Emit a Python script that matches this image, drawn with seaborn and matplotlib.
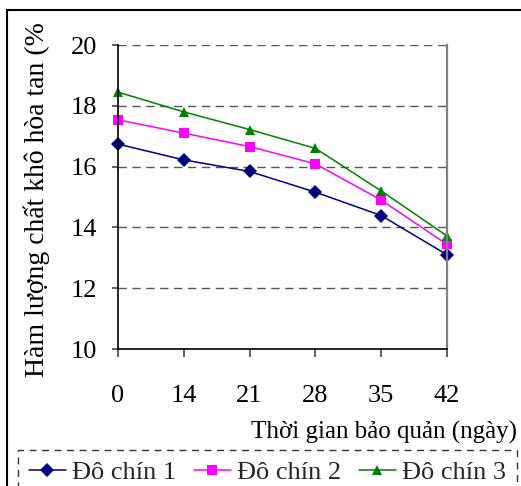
import matplotlib
matplotlib.use("Agg")
import matplotlib.pyplot as plt
import seaborn as sns
import pandas as pd
from matplotlib.patches import Rectangle

days = ["0", "14", "21", "28", "35", "42"]
series_names = ["Đô chín 1", "Đô chín 2", "Đô chín 3"]
do_chin_1 = [16.74, 16.22, 15.84, 15.16, 14.39, 13.10]
do_chin_2 = [17.54, 17.10, 16.66, 16.09, 14.90, 13.44]
do_chin_3 = [18.45, 17.80, 17.22, 16.60, 15.20, 13.72]
y_ticks = [10, 12, 14, 16, 18, 20]

x_label = "Thời gian bảo quản (ngày)"
y_label = "Hàm lượng chất khô hòa tan (%"

rows = []
for name, vals in zip(series_names, [do_chin_1, do_chin_2, do_chin_3]):
    for d, v in zip(days, vals):
        rows.append({"day": d, "value": v, "series": name})
df = pd.DataFrame(rows)

sns.set_theme(style="white")
plt.rcParams["font.family"] = ["Liberation Serif", "DejaVu Serif"]

W, H = 521, 486
fig = plt.figure(figsize=(W / 100, H / 100), dpi=100)
ax = fig.add_axes([118 / W, 1 - 349 / H, (447 - 118) / W, (349 - 45) / H])

palette = {"Đô chín 1": "#000080", "Đô chín 2": "#FF00FF", "Đô chín 3": "#008000"}
markers = {"Đô chín 1": "D", "Đô chín 2": "s", "Đô chín 3": "^"}

sns.lineplot(data=df, x="day", y="value", hue="series", style="series",
             palette=palette, markers=markers, dashes=False, sort=False,
             linewidth=1.1, markersize=7, markeredgewidth=0, ax=ax, legend=True)

for line in ax.lines:
    line.set_clip_on(False)

ax.set_xlim(0, 5)
ax.set_ylim(10, 20)
ax.set_yticks(y_ticks)
ax.set_xlabel("")
ax.set_ylabel("")

for y in y_ticks[1:]:
    ax.axhline(y, color="#555555", linestyle=(0, (6, 4)), linewidth=1.0, zorder=0)

ax.spines["top"].set_visible(False)
ax.spines["left"].set_color("black")
ax.spines["bottom"].set_color("black")
ax.spines["right"].set_color("#808080")
ax.spines["left"].set_linewidth(1.2)
ax.spines["bottom"].set_linewidth(1.2)
ax.spines["right"].set_linewidth(1.6)

ax.tick_params(axis="x", direction="out", length=6, width=1.2, color="#444444",
               pad=20, labelsize=19, bottom=True)
ax.tick_params(axis="y", direction="out", length=4, width=1.2, color="#444444",
               pad=11, labelsize=19, left=True)
for t in ax.get_xticklabels() + ax.get_yticklabels():
    t.set_color("black")

fig.text(37 / W, 1 - 200 / H, y_label, rotation=90, ha="center", va="center",
         fontsize=20, color="black")
fig.text(517 / W, 1 - 432 / H, x_label, ha="right", va="center",
         fontsize=18, color="black")

handles, labels = ax.get_legend_handles_labels()
ax.get_legend().remove()
leg = fig.legend(handles, labels, loc="upper left", ncol=3,
                 bbox_to_anchor=(18 / W, 1 - 450 / H - 0.05, 499 / W, 0.05), mode="expand",
                 fontsize=19, frameon=True, fancybox=False, handlelength=1.4,
                 handletextpad=0.25, columnspacing=0.4, borderaxespad=0,
                 borderpad=0.4)
fr = leg.get_frame()
fr.set_linestyle((0, (5, 4)))
fr.set_edgecolor("black")
fr.set_linewidth(1.0)
fr.set_facecolor("white")

fig.patches.append(Rectangle((7 / W, -0.1), 1.2, 1.1 - 10 / H, transform=fig.transFigure,
                             fill=False, edgecolor="black", linewidth=1.5, zorder=-1))

fig.savefig("out.png", dpi=100)
